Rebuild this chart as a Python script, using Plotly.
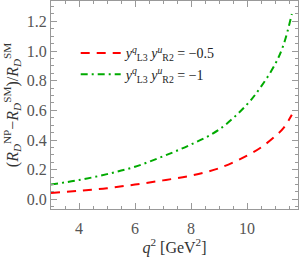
import plotly.graph_objects as go

q2 = [3.0, 4.0, 5.0, 6.0, 7.0, 8.0, 9.0, 10.0, 10.5, 11.0, 11.3, 11.6]
ratio_m05 = [0.043, 0.058, 0.075, 0.100, 0.128, 0.160, 0.210, 0.295, 0.350, 0.425, 0.480, 0.570]
ratio_m1 = [0.100, 0.130, 0.170, 0.220, 0.290, 0.370, 0.470, 0.640, 0.760, 0.910, 1.040, 1.250]
labels = ["<i>y</i><sup><i>q</i></sup><sub>L3</sub> <i>y</i><sup><i>u</i></sup><sub>R2</sub> = −0.5",
          "<i>y</i><sup><i>q</i></sup><sub>L3</sub> <i>y</i><sup><i>u</i></sup><sub>R2</sub> = −1"]

fig = go.Figure()
fig.add_trace(go.Scatter(x=q2, y=ratio_m05, mode="lines", name=labels[0],
                         line=dict(color="#ff0000", width=2, dash="9px,7px", shape="spline")))
fig.add_trace(go.Scatter(x=q2, y=ratio_m1, mode="lines", name=labels[1],
                         line=dict(color="#00aa00", width=2, dash="7px,4px,2px,4px", shape="spline")))

axcol = "#999999"
font = dict(family="Liberation Serif", size=16, color="#555555")
fig.update_layout(
    width=300, height=257,
    margin=dict(l=51, r=2, t=1, b=48),
    paper_bgcolor="white", plot_bgcolor="white",
    font=font,
    showlegend=True,
    legend=dict(x=0.10, y=0.825, xanchor="left", yanchor="top", bgcolor="rgba(0,0,0,0)",
                font=dict(family="Liberation Serif", size=14, color="#222222"),
                tracegroupgap=0, itemwidth=40),
    xaxis=dict(range=[3, 11.82], tickvals=[4, 6, 8, 10], ticks="inside", ticklen=6,
               tickcolor=axcol, showline=True, linecolor=axcol, mirror="ticks",
               showgrid=False, zeroline=False, automargin=False, ticklabelstandoff=5,
               minor=dict(dtick=0.5, tick0=0, ticks="inside", ticklen=3, tickcolor=axcol, showgrid=False),
               title=dict(text="<i>q</i><sup>2</sup> [GeV<sup>2</sup>]", font=dict(family="Liberation Serif", size=16, color="#333333"), standoff=4)),
    yaxis=dict(range=[-0.065, 1.337], tickvals=[0, 0.2, 0.4, 0.6, 0.8, 1.0, 1.2],
               ticktext=["0.0", "0.2", "0.4", "0.6", "0.8", "1.0", "1.2"],
               ticks="inside", ticklen=6, tickcolor=axcol, showline=True, linecolor=axcol,
               mirror="ticks", showgrid=False, zeroline=False, automargin=False,
               minor=dict(dtick=0.05, tick0=0, ticks="inside", ticklen=3, tickcolor=axcol, showgrid=False),
               title=dict(text="(<i>R</i><sub><i>D</i></sub><sup>NP</sup>−<i>R</i><sub><i>D</i></sub><sup>SM</sup>)/<i>R</i><sub><i>D</i></sub><sup>SM</sup>",
                          font=dict(family="Liberation Serif", size=16, color="#333333"), standoff=4)),
)
fig.write_html("out.html", config={"displayModeBar": False},
               post_script="document.body.style.margin='0';document.body.style.overflow='hidden';")
